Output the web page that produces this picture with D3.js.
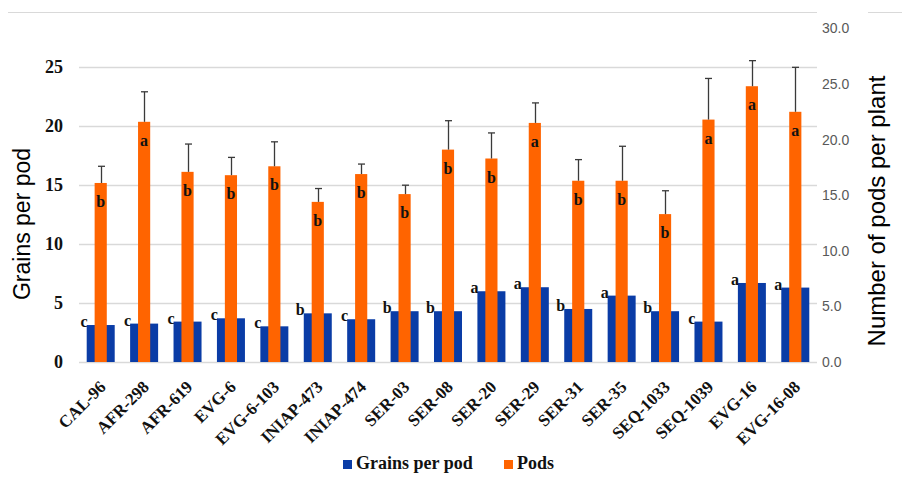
<!DOCTYPE html>
<html><head><meta charset="utf-8">
<script src="https://cdn.jsdelivr.net/npm/d3@7"></script>
<style>body{margin:0;background:#fff}svg{display:block}</style>
</head><body>
<svg id="c" width="902" height="477"></svg>
<script>
const categories = ["CAL-96","AFR-298","AFR-619","EVG-6","EVG-6-103","INIAP-473","INIAP-474","SER-03","SER-08","SER-20","SER-29","SER-31","SER-35","SEQ-1033","SEQ-1039","EVG-16","EVG-16-08"];
const grainsPerPod = [3.13,3.25,3.42,3.70,3.02,4.12,3.62,4.30,4.30,5.99,6.33,4.49,5.62,4.30,3.42,6.69,6.30];
const grainsLetters = ["c","c","c","c","c","b","c","b","b","a","a","b","a","b","c","a","a"];
const pods = [16.1,21.6,17.1,16.8,17.6,14.4,16.9,15.1,19.1,18.3,21.5,16.3,16.3,13.3,21.8,24.8,22.5];
const podsErr = [1.5,2.7,2.5,1.6,2.2,1.2,0.9,0.8,2.6,2.3,1.8,1.9,3.1,2.1,3.7,2.3,4.0];
const podsLetters = ["b","a","b","b","b","b","b","b","b","b","a","b","b","b","a","a","a"];
const leftTicks = [0,5,10,15,20,25];
const rightTicks = [0,5,10,15,20,25,30];
const seriesNames = ["Grains per pod","Pods"];

const svg = d3.select("#c");
const x0 = 79, x1 = 817, yBase = 362;
const x = d3.scaleBand().domain(categories).range([x0, x1]).padding(0);
const yL = d3.scaleLinear().domain([0,25]).range([yBase, 66.7]);
const yR = d3.scaleLinear().domain([0,30]).range([yBase, 28.4]);
const blue = "#0a3ca6", orange = "#ff6400";
const serif = "'Liberation Serif','Times New Roman',serif";
const sans = "'Liberation Sans',Arial,sans-serif";

// top rule
svg.append("line").attr("x1",8).attr("x2",x1).attr("y1",12.5).attr("y2",12.5).attr("stroke","#d9d9d9");
svg.append("line").attr("x1",868).attr("x2",902).attr("y1",12.5).attr("y2",12.5).attr("stroke","#d9d9d9");

// gridlines
svg.append("g").selectAll("line").data(leftTicks).join("line")
  .attr("x1",x0).attr("x2",x1).attr("y1",d=>Math.round(yL(d))+0.5).attr("y2",d=>Math.round(yL(d))+0.5)
  .attr("stroke","#d9d9d9").attr("stroke-width",1.5);

// left tick labels
svg.append("g").selectAll("text").data(leftTicks).join("text")
  .attr("x",63).attr("y",d=>yL(d)).attr("dy","0.35em").attr("text-anchor","end")
  .attr("font-family",serif).attr("font-weight","bold").attr("font-size",18).attr("fill","#111")
  .text(d=>d);

// right tick labels
svg.append("g").selectAll("text").data(rightTicks).join("text")
  .attr("x",822).attr("y",d=>yR(d)).attr("dy","0.35em").attr("text-anchor","start")
  .attr("font-family",sans).attr("font-size",14).attr("fill","#595959")
  .text(d=>d3.format(".1f")(d));

const bw = x.bandwidth();
const blueW = bw*0.645, orW = bw*0.28;
const cx = d => x(d) + bw/2;

// blue bars
svg.append("g").selectAll("rect").data(categories).join("rect")
  .attr("x",(d)=>cx(d)-blueW/2).attr("width",blueW)
  .attr("y",(d,i)=>yL(grainsPerPod[i])).attr("height",(d,i)=>yBase-yL(grainsPerPod[i]))
  .attr("fill",blue);
// orange bars
svg.append("g").selectAll("rect").data(categories).join("rect")
  .attr("x",(d)=>cx(d)-orW/2).attr("width",orW)
  .attr("y",(d,i)=>yR(pods[i])).attr("height",(d,i)=>yBase-yR(pods[i]))
  .attr("fill",orange);
// error bars
const eg = svg.append("g").attr("stroke","#3a3a3a").attr("stroke-width",1.3);
categories.forEach((d,i)=>{
  const c = Math.round(cx(d))+0.5;
  eg.append("line").attr("x1",c).attr("x2",c).attr("y1",yR(pods[i])).attr("y2",yR(pods[i]+podsErr[i]));
  eg.append("line").attr("x1",c-3.5).attr("x2",c+3.5).attr("y1",yR(pods[i]+podsErr[i])).attr("y2",yR(pods[i]+podsErr[i]));
});
// letters
svg.append("g").selectAll("text").data(categories).join("text")
  .attr("x",d=>cx(d)-blueW/2+1).attr("y",(d,i)=>yL(grainsPerPod[i])+2).attr("text-anchor","end")
  .attr("font-family",serif).attr("font-weight","bold").attr("font-size",16).attr("fill","#111")
  .text((d,i)=>grainsLetters[i]);
svg.append("g").selectAll("text").data(categories).join("text")
  .attr("x",d=>cx(d)).attr("y",(d,i)=>yR(pods[i])+24).attr("text-anchor","middle")
  .attr("font-family",serif).attr("font-weight","bold").attr("font-size",16).attr("fill","#111")
  .text((d,i)=>podsLetters[i]);

// x labels
svg.append("g").selectAll("text").data(categories).join("text")
  .attr("transform",d=>`translate(${cx(d)+6},${yBase+26}) rotate(-45)`)
  .attr("text-anchor","end")
  .attr("font-family",serif).attr("font-weight","bold").attr("font-size",17).attr("fill","#111")
  .text(d=>d);

// axis titles
svg.append("text").attr("transform",`translate(30,224) rotate(-90)`).attr("text-anchor","middle")
  .attr("font-family",sans).attr("font-size",23).attr("fill","#000").text("Grains per pod");
svg.append("text").attr("transform",`translate(885,211) rotate(-90)`).attr("text-anchor","middle")
  .attr("font-family",sans).attr("font-size",24).attr("fill","#000").text("Number of pods per plant");

// legend
const lg = svg.append("g").attr("font-family",serif).attr("font-weight","bold").attr("font-size",18).attr("fill","#111");
const legendColors = [blue, orange];
const lx = [343,504];
seriesNames.forEach((name,i)=>{
  lg.append("rect").attr("x",lx[i]).attr("y",460).attr("width",9).attr("height",9).attr("fill",legendColors[i]);
  lg.append("text").attr("x",lx[i]+13).attr("y",469).text(name);
});
</script>
</body></html>
